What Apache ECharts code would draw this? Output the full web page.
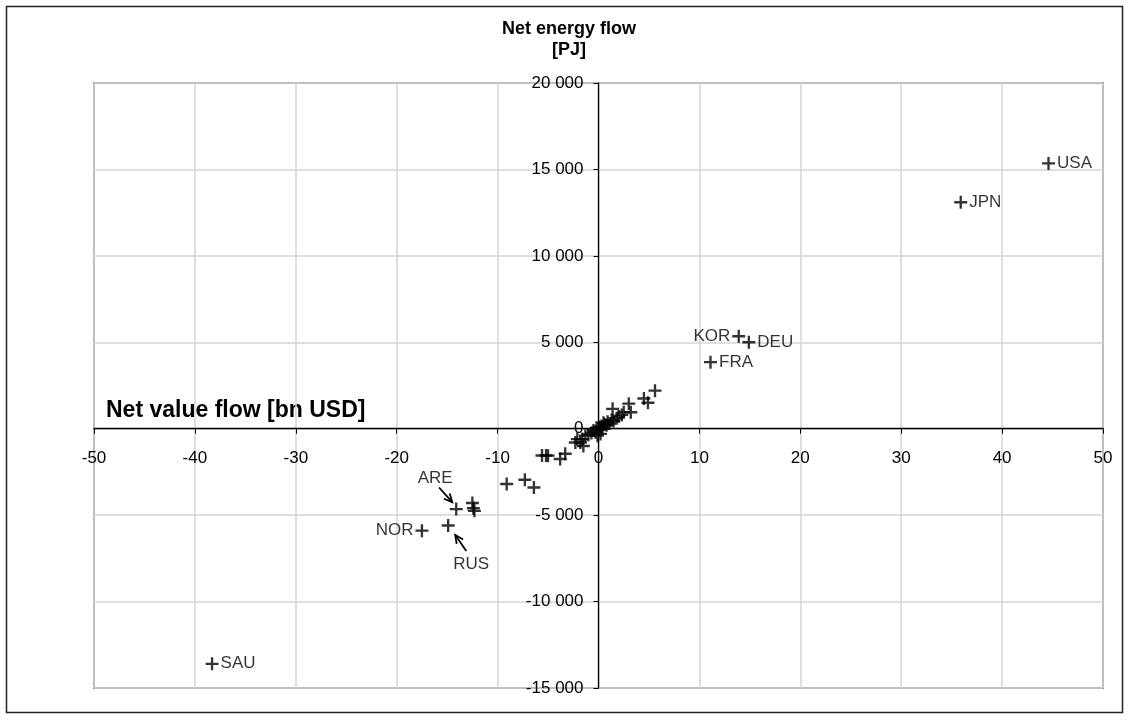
<!DOCTYPE html>
<html>
<head>
<meta charset="utf-8">
<script src="https://cdn.jsdelivr.net/npm/echarts@6/dist/echarts.min.js"></script>
<style>
html,body{margin:0;padding:0;background:#fff;}
#chart{width:1130px;height:720px;}
</style>
</head>
<body>
<div id="chart"></div>
<script>
// ---- data ----
const namedNames = ['USA','JPN','KOR','DEU','FRA','SAU','NOR','RUS','ARE'];
const namedX = [44.6, 35.9, 13.9, 14.9, 11.1, -38.3, -17.5, -14.9, -14.1];
const namedY = [15350, 13100, 5350, 5000, 3850, -13600, -5900, -5600, -4650];

const otherX = [-12.5,-12.4,-12.3,-9.1,-7.3,-6.4,-5.6,-5.2,-5.0,-3.8,-3.3,
  -2.3,-2.1,-1.8,-1.6,-1.5,-1.3,-1.0,
  -0.7,-0.5,-0.3,-0.2,0.0,0.1,0.3,0.4,0.6,0.8,0.9,1.1,1.3,1.5,1.8,2.0,2.3,0.2,0.5,-0.1,
  1.4,2.5,3.0,3.2,4.5,4.9,5.6];
const otherY = [-4300,-4600,-4750,-3200,-2950,-3400,-1550,-1550,-1560,-1750,-1450,
  -800,-600,-800,-600,-1000,-400,-350,
  -250,-100,-200,50,-50,100,150,0,250,200,400,300,500,450,600,700,800,-300,350,-400,
  1150,950,1450,950,1750,1500,2200];

// annotation arrows [fromX, fromY, toX, toY] in data units
const arrowFromX = [-15.8, -13.1];
const arrowFromY = [-3400, -7070];
const arrowToX = [-14.5, -14.2];
const arrowToY = [-4250, -6150];

const xTicksMin = -50, xTicksMax = 50, xTicksStep = 10;
const yTicksMin = -15000, yTicksMax = 20000, yTicksStep = 5000;

// ---- build ----
const GRID = {left:94, right:27, top:83, bottom:32};
const plotW = 1130 - GRID.left - GRID.right;
const plotH = 720 - GRID.top - GRID.bottom;
const zeroXOffset = -plotW * (0 - xTicksMin) / (xTicksMax - xTicksMin);
const zeroYOffset = -plotH * (0 - yTicksMin) / (yTicksMax - yTicksMin);

const labelCfg = {
  USA:{position:'right'}, JPN:{position:'right'}, DEU:{position:'right'},
  FRA:{position:'right'}, SAU:{position:'right'},
  KOR:{position:'left'}, NOR:{position:'left'},
  ARE:{position:'top', offset:[-21,-14]},
  RUS:{position:'bottom', offset:[23,22]}
};
const plusPath = 'path://M4.1,0h1.8v4.1h4.1v1.8h-4.1v4.1h-1.8v-4.1h-4.1v-1.8h4.1z';

const namedData = namedNames.map((n,i)=>({
  value:[namedX[i], namedY[i]], name:n,
  label:Object.assign({show:true, formatter:n, distance:2}, labelCfg[n])
}));
const otherData = otherX.map((x,i)=>[x, otherY[i]]);
const arrowData = arrowFromX.map((x,i)=>[x, arrowFromY[i], arrowToX[i], arrowToY[i]]);

function fmt(v){
  const s = Math.abs(v).toString().replace(/\B(?=(\d{3})+(?!\d))/g,' ');
  return (v<0?'-':'') + s;
}

const FONT = '"Liberation Sans", Arial, sans-serif';
const chart = echarts.init(document.getElementById('chart'), null, {renderer:'canvas'});
chart.setOption({
  animation:false,
  backgroundColor:'#fff',
  textStyle:{fontFamily:FONT},
  grid:Object.assign({show:true, borderColor:'#808080', borderWidth:2, containLabel:false}, GRID),
  xAxis:{
    type:'value', min:xTicksMin, max:xTicksMax, interval:xTicksStep,
    position:'bottom', offset:zeroYOffset,
    axisLine:{onZero:false, lineStyle:{color:'#000', width:1.3}},
    axisTick:{show:true, length:5, lineStyle:{color:'#000'}},
    axisLabel:{color:'#000', fontSize:17, fontFamily:FONT, margin:21, formatter:fmt},
    splitLine:{show:true, lineStyle:{color:'#d4d4d4', width:1.5}}
  },
  yAxis:{
    type:'value', min:yTicksMin, max:yTicksMax, interval:yTicksStep,
    position:'left', offset:zeroXOffset,
    axisLine:{onZero:false, lineStyle:{color:'#000', width:1.3}},
    axisTick:{show:true, length:5, lineStyle:{color:'#000'}},
    axisLabel:{color:'#000', fontSize:17, fontFamily:FONT, margin:15, formatter:fmt},
    splitLine:{show:true, lineStyle:{color:'#d4d4d4', width:1.5}}
  },
  graphic:[
    {type:'rect', shape:{x:6.5,y:6.5,width:1116,height:706}, style:{fill:'none', stroke:'#222', lineWidth:1.5}, silent:true, z:-1},
    {type:'text', style:{text:'Net energy flow\n[PJ]', x:569, y:19, textAlign:'center', fill:'#000', font:'bold 18px '+FONT, lineHeight:21}},
    {type:'text', style:{text:'Net value flow [bn USD]', x:106, y:399, fill:'#000', font:'bold 23px '+FONT}}
  ],
  series:[
    {type:'scatter', data:otherData, symbol:plusPath, symbolSize:13,
     itemStyle:{color:'#000'}, z:3},
    {type:'scatter', data:namedData, symbol:plusPath, symbolSize:13,
     itemStyle:{color:'#000'},
     label:{color:'#000', fontSize:17, fontFamily:FONT}, z:4},
    {type:'custom', data:arrowData, z:5,
     renderItem:function(params, api){
       const a = api.coord([api.value(0), api.value(1)]);
       const b = api.coord([api.value(2), api.value(3)]);
       const ang = Math.atan2(b[1]-a[1], b[0]-a[0]);
       const L = 9, spread = 0.45;
       const h1 = [b[0]-L*Math.cos(ang-spread), b[1]-L*Math.sin(ang-spread)];
       const h2 = [b[0]-L*Math.cos(ang+spread), b[1]-L*Math.sin(ang+spread)];
       return {type:'group', children:[
         {type:'line', shape:{x1:a[0],y1:a[1],x2:b[0],y2:b[1]}, style:{stroke:'#000', lineWidth:1.8}},
         {type:'polyline', shape:{points:[h1,b,h2]}, style:{stroke:'#000', fill:'none', lineWidth:1.8}}
       ]};
     }}
  ]
});
</script>
</body>
</html>
